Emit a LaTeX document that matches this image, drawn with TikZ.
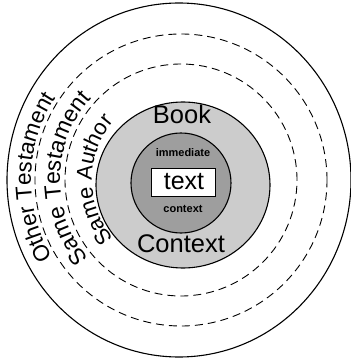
\documentclass[tikz,border=0pt]{standalone}
\usepackage{fontspec}
\setmainfont{Liberation Sans}
\usepackage{xcolor}
\usepackage{tikz}
\usetikzlibrary{decorations.text}
\definecolor{booklight}{gray}{0.80}
\definecolor{neardark}{gray}{0.62}
\newcommand\bigsans{\fontsize{25.5}{25.5}\selectfont}

\begin{document}
\begin{tikzpicture}[x=1pt, y=1pt,
    ringline/.style={line width=1.1pt},
    dashring/.style={line width=0.9pt, dash pattern=on 8pt off 5pt},
    ringtext/.style 2 args={decorate, decoration={text along path, text align=center,
      text={|\fontsize{#1}{#1}\selectfont|#2}}}]
  \useasboundingbox (0,0) rectangle (351,360);
  % rings, outside in
  \draw[ringline] (179,180) ellipse[x radius=172, y radius=177];
  \draw[dashring] (181,180) circle[radius=146];
  \draw[dashring] (181,180) circle[radius=116];
  \draw[ringline, fill=booklight] (183,175) ellipse[x radius=87, y radius=83];
  \draw[ringline, fill=neardark] (181,177) circle[radius=50];
  % labels on the arcs
  \path[ringtext={22.5}{Other Testament}] (181,180) ++(269:150) arc[start angle=269, end angle=89, radius=150];
  \path[ringtext={23}{Same Testament}] (181,180) ++(269:121) arc[start angle=269, end angle=89, radius=121];
  \path[ringtext={22}{Same Author}] (181,180) ++(270:89) arc[start angle=270, end angle=90, radius=89];
  % inner labels
  \node[font=\bigsans, inner sep=0] (book) at (182,246) {Book};
  \node[font=\bigsans, inner sep=0] (ctx) at (181,116) {Context};
  \node[font=\fontsize{11}{11}\selectfont\bfseries, inner sep=0] (imm) at (183,207) {immediate};
  \node[font=\fontsize{11}{11}\selectfont\bfseries, inner sep=0] (immctx) at (183,151) {context};
  \node[draw, line width=1pt, fill=white, minimum width=64, minimum height=28, inner sep=0,
        font=\fontsize{25}{25}\selectfont] (txt) at (184,178) {text};
\end{tikzpicture}
\end{document}
